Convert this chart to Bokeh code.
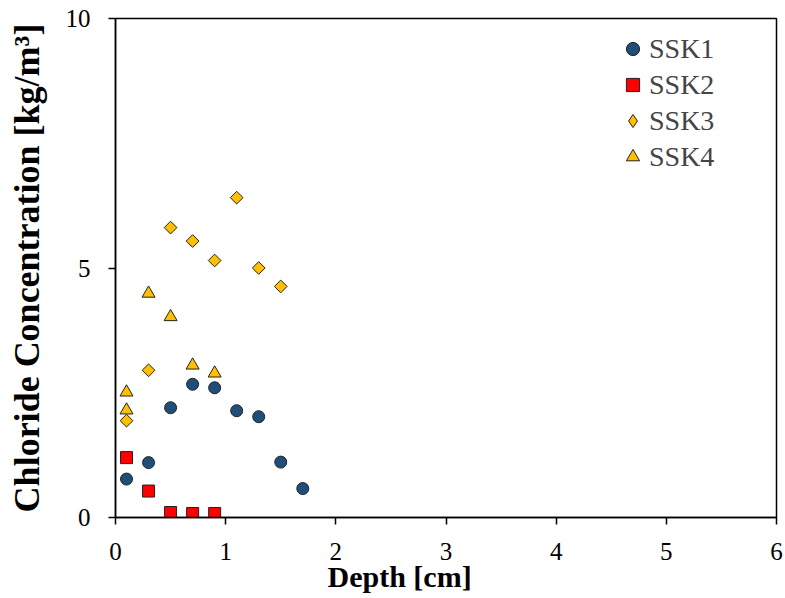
import math
from bokeh.plotting import figure
from bokeh.models import Range1d, FixedTicker, Legend, LegendItem, Title
from bokeh.embed import file_html
from bokeh.resources import INLINE

ssk1_x = [0.1, 0.3, 0.5, 0.7, 0.9, 1.1, 1.3, 1.5, 1.7]
ssk1_y = [0.77, 1.10, 2.20, 2.67, 2.60, 2.14, 2.02, 1.11, 0.58]
ssk2_x = [0.1, 0.3, 0.5, 0.7, 0.9]
ssk2_y = [1.20, 0.53, 0.10, 0.08, 0.08]
ssk3_x = [0.1, 0.3, 0.5, 0.7, 0.9, 1.1, 1.3, 1.5]
ssk3_y = [1.94, 2.95, 5.81, 5.54, 5.15, 6.41, 5.00, 4.63]
ssk4_x = [0.1, 0.1, 0.3, 0.5, 0.7, 0.9]
ssk4_y = [2.51, 2.15, 4.49, 4.02, 3.05, 2.89]

x_ticks = [0, 1, 2, 3, 4, 5, 6]
y_ticks = [0, 5, 10]
x_title = "Depth [cm]"
y_title = "Chloride Concentration [kg/m³]"

FONT = "Liberation Serif"

p = figure(width=783, height=597, output_backend="svg", toolbar_location=None,
           x_range=Range1d(0, 6), y_range=Range1d(0, 10),
           min_border_left=115, min_border_top=18, min_border_right=7, min_border_bottom=80)
p.xgrid.visible = False
p.ygrid.visible = False
p.outline_line_color = "black"
p.outline_line_width = 1.5

for ax in (p.xaxis[0], p.yaxis[0]):
    ax.axis_line_color = "black"
    ax.axis_line_width = 1.5
    ax.major_tick_line_color = "black"
    ax.major_tick_line_width = 1.5
    ax.major_tick_out = 7
    ax.major_tick_in = 0
    ax.minor_tick_line_color = None
    ax.major_label_text_font = FONT
    ax.major_label_text_font_size = "25px"
    ax.major_label_text_color = "black"

p.xaxis.ticker = FixedTicker(ticks=x_ticks)
p.yaxis.ticker = FixedTicker(ticks=y_ticks)
p.xaxis.major_label_standoff = 18
p.yaxis.major_label_standoff = 18

# y title as the axis label
p.yaxis.axis_label = y_title
p.yaxis.axis_label_text_font = FONT
p.yaxis.axis_label_text_font_size = "36px"
p.yaxis.axis_label_text_font_style = "bold"
p.yaxis.axis_label_text_color = "black"
p.yaxis.axis_label_standoff = 16

# x title as a side title (left-aligned with offset like the reference)
xt = Title(text=x_title, align="left", offset=212, standoff=-9, text_font=FONT,
           text_font_size="30px", text_font_style="bold", text_color="black")
p.add_layout(xt, "below")

r1 = p.scatter(ssk1_x, ssk1_y, marker="circle", size=12, fill_color="#1F4E79",
               line_color="#222222", line_width=1)
r2 = p.scatter(ssk2_x, ssk2_y, marker="square", size=12, fill_color="#FF0000",
               line_color="#222222", line_width=1)
r3 = p.scatter(ssk3_x, ssk3_y, marker="square", angle=math.pi / 4, size=9,
               fill_color="#FFC000", line_color="#222222", line_width=1)
r4 = p.scatter(ssk4_x, ssk4_y, marker="triangle", size=13, fill_color="#FFC000",
               line_color="#222222", line_width=1)
# legend proxy for the diamond (legend glyphs are drawn without rotation);
# its single point lies outside the visible ranges
r3_leg = p.scatter(ssk3_x[:1], [-100], marker="diamond", size=13, fill_color="#FFC000",
                   line_color="#222222", line_width=1)

legend = Legend(items=[LegendItem(label="SSK1", renderers=[r1]),
                       LegendItem(label="SSK2", renderers=[r2]),
                       LegendItem(label="SSK3", renderers=[r3_leg]),
                       LegendItem(label="SSK4", renderers=[r4])],
                location=(501, 344))
legend.border_line_color = None
legend.background_fill_alpha = 0
legend.label_text_font = FONT
legend.label_text_font_size = "28px"
legend.label_height = 30
legend.glyph_height = 33
legend.glyph_width = 33
legend.spacing = 3
legend.label_standoff = -5
p.add_layout(legend, "center")

open("out.html", "w").write(file_html(p, INLINE))
